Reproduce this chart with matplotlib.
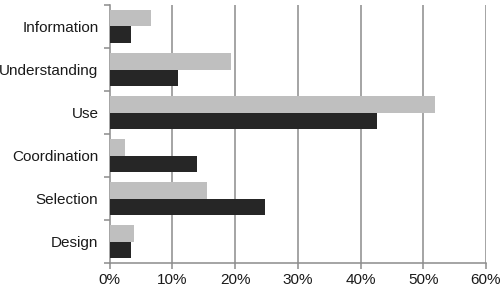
import matplotlib
matplotlib.use("Agg")
import matplotlib.pyplot as plt
import numpy as np
from matplotlib.ticker import FixedLocator, PercentFormatter

categories = ["Information", "Understanding", "Use", "Coordination", "Selection", "Design"]
series_light = [6.6, 19.3, 51.8, 2.4, 15.6, 3.9]
series_dark = [3.5, 10.9, 42.6, 13.9, 24.8, 3.5]
x_ticks = [0, 10, 20, 30, 40, 50, 60]

plt.rcParams['font.family'] = ['Liberation Sans', 'DejaVu Sans']

fig = plt.figure(figsize=(5.03, 2.94), dpi=100)
ax = fig.add_axes([0.2177, 0.1054, 0.9662 - 0.2177, 0.983 - 0.1054])

n = len(categories)
y = np.arange(n)[::-1].astype(float)  # top category at highest y
h = 0.39
ax.barh(y + h / 2, series_light, height=h, color="#bfbfbf", zorder=3)
ax.barh(y - h / 2, series_dark, height=h, color="#262626", zorder=3)

ax.set_xlim(0, 60)
ax.set_ylim(-0.5, n - 0.5)
ax.set_xticks(x_ticks)
ax.xaxis.set_major_formatter(PercentFormatter(decimals=0))
ax.set_yticks(y)
ax.set_yticklabels(categories)
ax.yaxis.set_minor_locator(FixedLocator(np.arange(n + 1) - 0.5))

for xv in x_ticks[1:]:
    ax.axvline(xv, color="#8c8c8c", linewidth=1.1, zorder=1)

for s in ["top", "right"]:
    ax.spines[s].set_visible(False)
for s in ["left", "bottom"]:
    ax.spines[s].set_color("#8c8c8c")
    ax.spines[s].set_linewidth(1.1)

ax.tick_params(axis="y", which="major", length=0, pad=8, labelsize=11, labelcolor="#1a1a1a")
ax.tick_params(axis="y", which="minor", length=4, color="#8c8c8c", width=1.1)
ax.tick_params(axis="x", which="major", length=4, color="#8c8c8c", width=1.1, labelsize=11, labelcolor="#1a1a1a", pad=3)

fig.savefig("out.png", dpi=100)
